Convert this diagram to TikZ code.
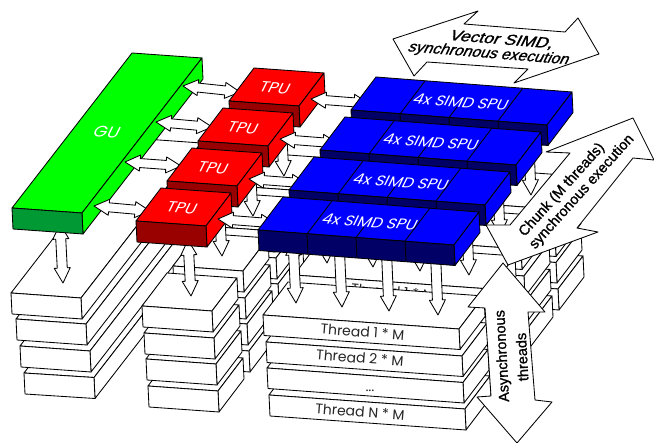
\documentclass[tikz,border=0pt]{standalone}
\usepackage{fontspec}
\usetikzlibrary{calc}
\newfontfamily\gothic{Poppins}
\setmainfont{Liberation Sans}
\newfontfamily\arrowfont[FakeBold=1.2]{Liberation Sans}
\definecolor{grT}{HTML}{00FF00}\definecolor{grF}{HTML}{009933}\definecolor{grS}{HTML}{00FF00}
\definecolor{reT}{HTML}{FF0000}\definecolor{reF}{HTML}{990000}\definecolor{reS}{HTML}{FF0000}
\definecolor{blT}{HTML}{0000FF}\definecolor{blF}{HTML}{000066}\definecolor{blS}{HTML}{0000FF}
\definecolor{wtT}{HTML}{FFFFFF}\definecolor{wtF}{HTML}{FFFFFF}\definecolor{wtS}{HTML}{FFFFFF}
\tikzset{
  edge/.style={draw=black,line width=.85pt,line join=round},
  bigarrow/.style={edge,fill=white},
  toplabel/.style={transform shape,text=white,font=\gothic,inner sep=0pt},
  threadlabel/.style={transform shape,text=black!85,font=\gothic\fontsize{14}{16}\selectfont,inner sep=0pt},
  arrowlabel/.style={transform shape,text=black,font=\arrowfont\fontsize{14.5}{16}\selectfont,inner sep=0pt,align=center},
}
% x y wx wy dx dy hy colour-prefix
\newcommand\slab[8]{%
  \draw[edge,fill=#8T] ({#1},{#2}) -- ++({#3},{#4}) -- ++({#5},{#6}) -- ++({-1*(#3)},{-1*(#4)}) -- cycle;
  \draw[edge,fill=#8S] ({(#1)+(#3)},{(#2)+(#4)}) -- ++({#5},{#6}) -- ++(1,{#7}) -- ++({-1*(#5)},{-1*(#6)}) -- cycle;
  \draw[edge,fill=#8F] ({#1},{#2}) -- ++({#3},{#4}) -- ++(1,{#7}) -- ++({-1*(#3)},{-1*(#4)}) -- cycle;
}
% double-headed arrow between two points: A B shaft head headlength
\newcommand\biarrow[5]{%
  \coordinate (ba) at #1; \coordinate (bb) at #2;
  \coordinate (baH) at ($(ba)!#5pt!(bb)$);
  \coordinate (bbH) at ($(bb)!#5pt!(ba)$);
  \draw[bigarrow] (ba)
    -- ($(baH)!#4pt!90:(bb)$) -- ($(baH)!#3pt!90:(bb)$)
    -- ($(bbH)!#3pt!-90:(ba)$) -- ($(bbH)!#4pt!-90:(ba)$)
    -- (bb)
    -- ($(bbH)!#4pt!90:(ba)$) -- ($(bbH)!#3pt!90:(ba)$)
    -- ($(baH)!#3pt!-90:(bb)$) -- ($(baH)!#4pt!-90:(bb)$) -- cycle;
}
% label lying on a top face: x y name size text
\newcommand\toptext[5]{%
  \begin{scope}[shift={(#1,#2)},xslant=.42,rotate=-4,yscale=.85]
    \node[toplabel,font=\gothic\fontsize{#4}{#4}\selectfont] (#3) {#5};
  \end{scope}
}
\newcommand\threadtext[4]{%
  \begin{scope}[shift={(#1,#2)},rotate=-4.5]
    \node[threadlabel] (#3) {#4};
  \end{scope}
}
\begin{document}
\begin{tikzpicture}[x=1pt,y=-1pt]
\path[use as bounding box,fill=white] (0,0) rectangle (654,443);
% stack under GU
\slab{24}{373}{70}{4.5}{120}{-155}{21}{wt}
\slab{20}{346}{70}{5}{120}{-155}{21}{wt}
\slab{16}{319}{70}{5}{120}{-155}{21}{wt}
\slab{11}{293}{70}{5}{120}{-155}{21}{wt}
% stacks under the TPUs
\foreach \k in {3,2,1,0}{
  \slab{148+31*\k}{386-40*\k}{70}{5}{25}{-33}{21}{wt}
  \slab{146+31*\k}{359-40*\k}{70}{5}{25}{-33}{21}{wt}
  \slab{144+31*\k}{333-40*\k}{70}{5}{25}{-33}{21}{wt}
  \slab{142+31*\k}{306-40*\k}{70}{5}{25}{-33}{21}{wt}
}
% stacks under the SPUs
\foreach \k in {3,2,1,0}{
  \slab{269+31*\k}{395-40*\k}{196}{14}{25}{-33}{21}{wt}
  \slab{267+31*\k}{368-40*\k}{196}{14.5}{25}{-33}{20.5}{wt}
  \slab{266+31*\k}{342-40*\k}{196}{14}{25}{-33}{20.5}{wt}
  \slab{263+31*\k}{315-40*\k}{196}{14}{25}{-33}{20.5}{wt}
  \ifnum\k=1 \threadtext{393}{292}{threadback}{Thread 1 * M}\fi
}
\threadtext{362.5}{332}{threadA}{Thread 1 * M}
\threadtext{360}{358}{threadB}{Thread 2 * M}
\threadtext{370}{391}{threadC}{...}
\threadtext{360}{412}{threadD}{Thread N * M}
% GU
\biarrow{(60,224)}{(63,283)}{5}{8}{15}
\slab{12}{208}{70}{5}{120}{-155}{21}{gr}
\toptext{107}{132}{gu}{18}{GU}
% TPUs and their arrows
\biarrow{(183,86)}{(240,92)}{4.5}{8}{15}
\biarrow{(156,122)}{(212,127)}{4.5}{8}{15}
\biarrow{(125,162)}{(181,166)}{4.5}{8}{15}
\biarrow{(94,206)}{(150,211)}{4.5}{8}{15}
\foreach \k/\lx/\ly in {3/275/88,2/243/128,1/213/168,0/182/208}{
  \biarrow{({188+31*\k},{240-40*\k})}{({191+31*\k},{296-40*\k})}{5}{8}{15}
  \slab{136+31*\k}{221-40*\k}{70}{5}{25}{-33}{21}{re}
  \toptext{\lx}{\ly}{tpu\k}{17}{TPU}
  \biarrow{({218+31*\k},{219-40*\k})}{({276+31*\k},{223.5-40*\k})}{4.5}{8}{15}
}
% SPUs
\foreach \k/\lx/\ly in {3/461/102,2/431/142,1/401/182,0/370/222}{
  \foreach \a/\ax/\bx/\by in {1/293/296/303,2/339/342/307,3/386/389/311,4/435/438/315}{
    \biarrow{({\ax+31*\k},{240-40*\k})}{({\bx+31*\k},{\by-40*\k})}{5}{8}{15}
  }
  \slab{258+31*\k}{230-40*\k}{196}{15}{25}{-33}{20.5}{bl}
  \draw[edge] ({307+31*\k},{234-40*\k}) -- ++(25,-33);
  \draw[edge] ({405+31*\k},{241-40*\k}) -- ++(25,-33);
  \draw[edge] ({356+31*\k},{237.5-40*\k}) -- ++(8,-10.5);
  \draw[edge] ({307+31*\k},{234-40*\k}) -- ++(1,20.5);
  \draw[edge] ({356+31*\k},{237.5-40*\k}) -- ++(1,20.5);
  \draw[edge] ({405+31*\k},{241-40*\k}) -- ++(1,20.5);
  \toptext{\lx}{\ly}{spu\k}{16.5}{4x SIMD SPU}
}
% large labelled arrows
\draw[bigarrow] (393,39) -- (478,11) -- (464,24) -- (565,32) -- (578,18) -- (599,54)
  -- (514,83) -- (528,69) -- (427,62) -- (414,76) -- cycle;
\begin{scope}[shift={(502,40)},xslant=.42,rotate=-4.5,xscale=1.25]
  \node[arrowlabel] (vectorA) {Vector SIMD,};
\end{scope}
\begin{scope}[shift={(489,54)},xslant=.42,rotate=-4.5,xscale=1.12]
  \node[arrowlabel] (vectorB) {synchronous execution};
\end{scope}
\draw[bigarrow] (633,118) -- (654,160) -- (633,158) -- (577,228) -- (598,232)
  -- (508,265) -- (486,225) -- (510,225) -- (570,153) -- (546,152) -- cycle;
\begin{scope}[shift={(562,190)},rotate=48]
  \node[arrowlabel] (chunkA) {Chunk (M threads)};
\end{scope}
\begin{scope}[shift={(582,192)},rotate=48]
  \node[arrowlabel] (chunkB) {synchronous execution};
\end{scope}
\draw[bigarrow] (503,263) -- (545,312) -- (528,312) -- (535,400) -- (552,402)
  -- (517,443) -- (477,397) -- (491,396) -- (485,308) -- (468,307) -- cycle;
\begin{scope}[shift={(503,356)},rotate=-87]
  \node[arrowlabel,rotate=180] (asyncA) {Asynchronous};
\end{scope}
\begin{scope}[shift={(522,357)},rotate=-87]
  \node[arrowlabel,rotate=180] (asyncB) {threads};
\end{scope}
\end{tikzpicture}
\end{document}
